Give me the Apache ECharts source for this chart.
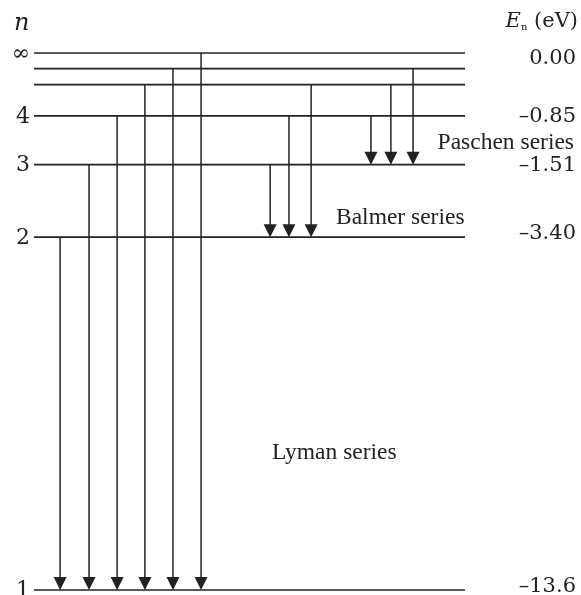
<!DOCTYPE html>
<html>
<head>
<meta charset="utf-8">
<script src="https://cdn.jsdelivr.net/npm/echarts@6/dist/echarts.min.js"></script>
<style>
html,body{margin:0;padding:0;background:#fff;}
#chart{width:581px;height:595px;}
</style>
</head>
<body>
<div id="chart"></div>
<script>
// Energy levels of hydrogen (schematic heights, not to scale)
const levelN = ['1', '2', '3', '4', '5', '6', '∞'];
const levelLeftLabels = ['1', '2', '3', '4', '', '', '∞'];
const levelEnergyLabels = ['–13.6', '–3.40', '–1.51', '–0.85', '', '', '0.00'];
const levelHeights = [0, 65.7, 79.2, 88.3, 94.1, 97.1, 100];

// Transitions: column on the schematic x scale and the upper level index
const lymanColumns = [0.93, 1.96, 2.96, 3.95, 4.95, 5.95];
const lymanFrom = [1, 2, 3, 4, 5, 6];
const balmerColumns = [8.41, 9.08, 9.87];
const balmerFrom = [2, 3, 4];
const paschenColumns = [12.0, 12.71, 13.5];
const paschenFrom = [3, 4, 5];

const seriesNames = ['Lyman series', 'Balmer series', 'Paschen series'];

const X_MAX = 15.35;
const INK = '#222';
// small typesetting nudges of the energy labels (px), by level index
const energyNudge = {0: -4, 1: -5, 6: 5};

const transitions = [];
lymanColumns.forEach((c, i) => transitions.push([c, levelHeights[lymanFrom[i]], levelHeights[0]]));
balmerColumns.forEach((c, i) => transitions.push([c, levelHeights[balmerFrom[i]], levelHeights[1]]));
paschenColumns.forEach((c, i) => transitions.push([c, levelHeights[paschenFrom[i]], levelHeights[2]]));

const levelData = levelHeights.map((h, i) => [0, X_MAX, h, i]);

const chart = echarts.init(document.getElementById('chart'));
chart.setOption({
  animation: false,
  backgroundColor: '#fff',
  grid: {left: 34, right: 116, top: 53, bottom: 5},
  xAxis: {type: 'value', min: 0, max: X_MAX, show: false},
  yAxis: {type: 'value', min: 0, max: 100, show: false},
  series: [
    {
      type: 'custom',
      name: 'levels',
      data: levelData,
      renderItem: function (params, api) {
        const h = api.value(2);
        const idx = api.value(3);
        const a = api.coord([api.value(0), h]);
        const b = api.coord([api.value(1), h]);
        const children = [{
          type: 'line',
          shape: {x1: a[0], y1: a[1], x2: b[0], y2: b[1]},
          style: {stroke: INK, lineWidth: 1.7}
        }];
        const left = levelLeftLabels[idx];
        if (left) {
          children.push({
            type: 'text',
            style: {
              text: left, x: a[0] - 4, y: a[1] + 1,
              align: 'right', verticalAlign: 'middle',
              font: '22px "DejaVu Serif"', fill: INK
            }
          });
        }
        const right = levelEnergyLabels[idx];
        if (right) {
          children.push({
            type: 'text',
            style: {
              text: right, x: b[0] + 111, y: b[1] + 1 + (energyNudge[idx] || 0),
              align: 'right', verticalAlign: 'middle',
              font: '21px "DejaVu Serif"', fill: INK
            }
          });
        }
        return {type: 'group', children: children};
      }
    },
    {
      type: 'custom',
      name: 'transitions',
      data: transitions,
      renderItem: function (params, api) {
        const x = api.value(0);
        const p1 = api.coord([x, api.value(1)]);
        const p2 = api.coord([x, api.value(2)]);
        const hw = 6.5, hh = 13;
        return {
          type: 'group',
          children: [
            {
              type: 'line',
              shape: {x1: p1[0], y1: p1[1], x2: p2[0], y2: p2[1] - hh + 1},
              style: {stroke: INK, lineWidth: 1.5}
            },
            {
              type: 'polygon',
              shape: {points: [[p2[0] - hw, p2[1] - hh], [p2[0] + hw, p2[1] - hh], [p2[0], p2[1]]]},
              style: {fill: INK}
            }
          ]
        };
      }
    }
  ],
  graphic: [
    {type: 'text', left: 14, top: 12, style: {text: 'n', font: 'italic 24px "DejaVu Serif"', fill: INK}},
    {
      type: 'text', right: 3, top: 11,
      style: {
        text: '{e|E}{s|n} (eV)',
        font: '21px "DejaVu Serif"', fill: INK,
        rich: {
          e: {font: 'italic 21px "DejaVu Serif"', fill: INK},
          s: {font: '10px "DejaVu Serif"', fill: INK, verticalAlign: 'bottom', padding: [8, 0, 0, 0]}
        }
      }
    },
    {type: 'text', right: 7, top: 131, style: {text: seriesNames[2], font: '23.5px "Liberation Serif"', fill: INK}},
    {type: 'text', left: 336, top: 206, style: {text: seriesNames[1], font: '23.5px "Liberation Serif"', fill: INK}},
    {type: 'text', left: 272, top: 441, style: {text: seriesNames[0], font: '23.5px "Liberation Serif"', fill: INK}}
  ]
});
</script>
</body>
</html>
